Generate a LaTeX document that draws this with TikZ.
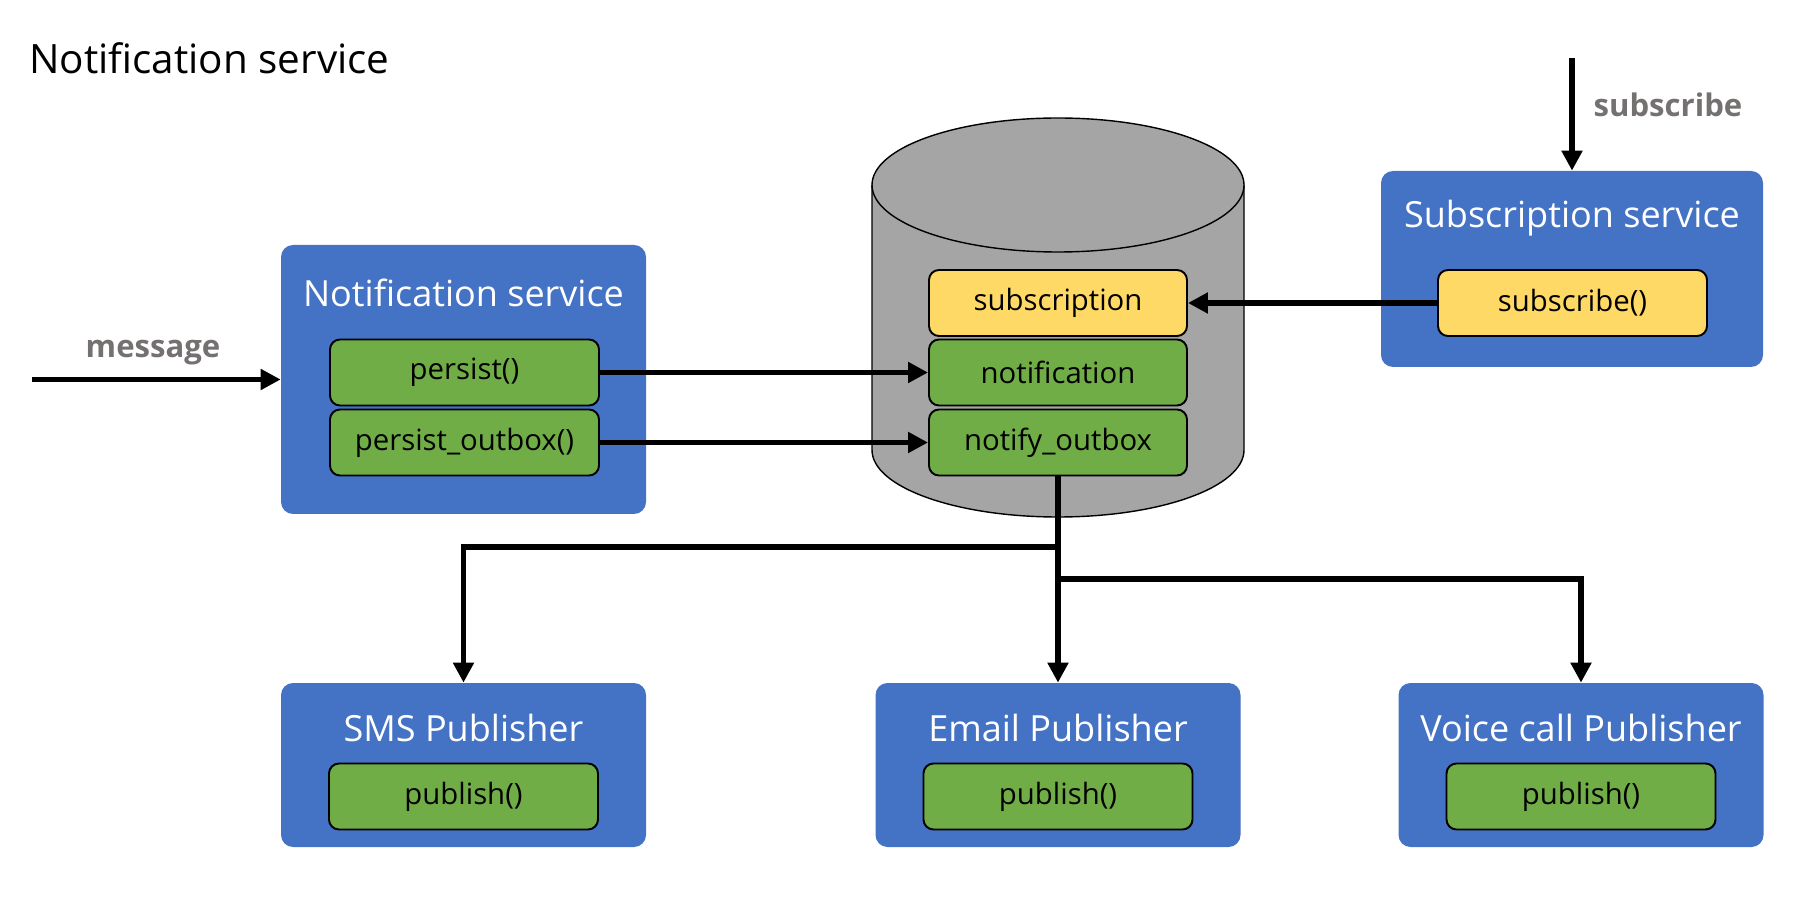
\documentclass[tikz,border=0pt]{standalone}
\usepackage{fontspec}
\setmainfont{Open Sans}
\usetikzlibrary{arrows.meta, positioning, calc}
\definecolor{svcblue}{HTML}{4472C4}
\definecolor{fngreen}{HTML}{70AD47}
\definecolor{subyellow}{HTML}{FFD966}
\definecolor{dbgray}{HTML}{A5A5A5}
\definecolor{labelgray}{HTML}{767171}

\begin{document}
\begin{tikzpicture}[
  service/.style={fill=svcblue, rounded corners=0.24cm, minimum width=7.30cm, inner sep=0pt},
  servicetitle/.style={text=white, inner sep=0pt, font=\fontsize{20.5}{24}\selectfont},
  method/.style={draw=black, line width=1.1pt, fill=fngreen, rounded corners=0.2cm,
                 minimum width=5.38cm, minimum height=1.32cm, inner sep=0pt,
                 font=\fontsize{16.7}{20}\selectfont},
  record/.style={method, minimum width=5.16cm},
  link/.style={draw=black, line width=3.2pt, -{Triangle[length=0.4cm, width=0.4cm]}},
  flowlabel/.style={text=labelgray, inner sep=0pt, font=\bfseries\fontsize{17.7}{21}\selectfont}
]
\useasboundingbox (0,0) rectangle (36.28,18.12);

% ---- heading -------------------------------------------------------
\node[anchor=west, inner sep=0pt, font=\fontsize{23}{27}\selectfont] (heading) at (0.58,16.96) {Notification service};

% ---- database ------------------------------------------------------
\draw[line width=0.8pt, fill=dbgray] (17.44,14.42) -- (17.44,9.12)
  arc[start angle=180, end angle=360, x radius=3.72, y radius=1.34] -- (24.88,14.42);
\draw[line width=0.8pt, fill=dbgray] (21.16,14.42) ellipse[x radius=3.72, y radius=1.34];

\node[record, fill=subyellow] (subtab)    at (21.16,12.06) {subscription};
\node[record]                 (notiftab)  at (21.16,10.67) {notification};
\node[record]                 (outboxtab) at (21.16,9.27)  {notify\_outbox};

% ---- notification service ------------------------------------------
\node[service, minimum height=5.38cm] (notifsvc) at (9.27,10.53) {};
\node[servicetitle] (notifsvc-title) at (9.27,12.26) {Notification service};
\node[method] (persist)    at (9.29,10.67) {persist()};
\node[method] (persistout) at (9.29,9.27)  {persist\_outbox()};

% ---- subscription service ------------------------------------------
\node[service, minimum width=7.64cm, minimum height=3.92cm] (subsvc) at (31.44,12.74) {};
\node[servicetitle] (subsvc-title) at (31.44,13.76) {Subscription service};
\node[method, fill=subyellow] (subscribe) at (31.45,12.06) {subscribe()};

% ---- publishers ----------------------------------------------------
\foreach \name/\x/\title in {sms/9.27/SMS Publisher, email/21.16/Email Publisher,
                             voice/31.62/Voice call Publisher} {
  \node[service, minimum height=3.28cm] (\name) at (\x,2.82) {};
  \node[servicetitle] (\name-title) at (\x,3.56) {\title};
  \node[method] (\name-publish) at (\x,2.19) {publish()};
}

% ---- inputs --------------------------------------------------------
\coordinate (msgin) at (0.64,10.53);
\draw[link] (msgin) -- (notifsvc.west);
\node[flowlabel] (msglabel) at (3.06,11.07) {message};

\coordinate (subin) at (31.44,16.96);
\draw[link] (subin) -- (subsvc.north);
\node[flowlabel] (sublabel) at (33.36,16.02) {subscribe};

% ---- links ---------------------------------------------------------
\draw[link] (persist.east) -- (notiftab.west);
\draw[link] (persistout.east) -- (outboxtab.west);
\draw[link] (subscribe.west) -- (subtab.east);

\coordinate (smsfork)   at ($(outboxtab.south)+(0,-1.41)$);
\coordinate (voicefork) at ($(outboxtab.south)+(0,-2.05)$);
\draw[link] (outboxtab.south) -- (email.north);
\draw[link] (smsfork) -| (sms.north);
\draw[link] (voicefork) -| (voice.north);

\end{tikzpicture}
\end{document}
